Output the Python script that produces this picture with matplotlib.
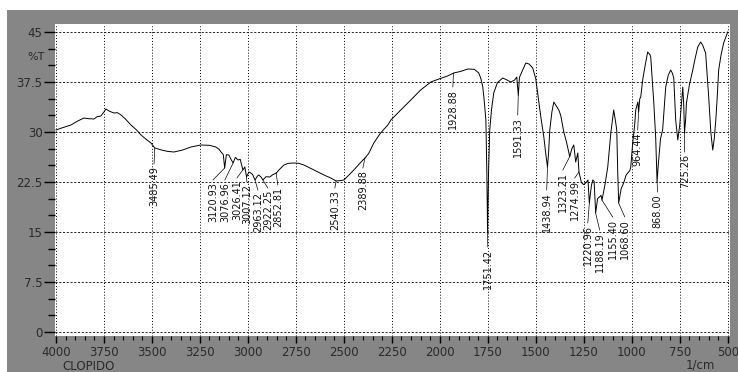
import matplotlib
matplotlib.use("Agg")
import matplotlib.pyplot as plt
from matplotlib.patches import Rectangle
from matplotlib.ticker import MultipleLocator, FormatStrFormatter

# spectrum (wavenumber 1/cm, %T)
wavenumber = [4000, 3960, 3922, 3890, 3854, 3830, 3802, 3785, 3766, 3750, 3740, 3720, 3698, 3680,
              3661, 3640, 3609, 3580, 3557, 3530, 3505, 3485, 3450, 3420, 3385, 3340, 3297, 3245,
              3200, 3167, 3150, 3140, 3128, 3121, 3112, 3099, 3090, 3077, 3065, 3052, 3040, 3026,
              3016, 3007, 2995, 2985, 2975, 2963, 2950, 2943, 2930, 2922, 2905, 2886, 2870, 2852,
              2835, 2812, 2790, 2760, 2735, 2708, 2670, 2635, 2600, 2568, 2540, 2520, 2500, 2475,
              2448, 2420, 2390, 2370, 2344, 2310, 2271, 2255, 2200, 2151, 2100, 2047, 2000, 1960,
              1927, 1890, 1854, 1820, 1797, 1786, 1776, 1768, 1760, 1755, 1751, 1746, 1740, 1730,
              1719, 1700, 1672, 1650, 1630, 1610, 1599, 1591, 1585, 1568, 1552, 1535, 1516, 1500,
              1490, 1475, 1458, 1447, 1439, 1433, 1427, 1416, 1406, 1395, 1380, 1370, 1354, 1340,
              1323, 1312, 1302, 1292, 1281, 1275, 1262, 1250, 1235, 1228, 1221, 1210, 1203, 1196,
              1188, 1178, 1168, 1160, 1155, 1140, 1125, 1109, 1094, 1084, 1078, 1073, 1068, 1055,
              1042, 1030, 1021, 1010, 1005, 995, 985, 979, 968, 964, 958, 953, 943, 930, 917, 905,
              901, 885, 875, 868, 862, 850, 839, 823, 810, 797, 788, 781, 771, 760, 750, 745, 734,
              729, 725, 719, 715, 700, 682, 670, 656, 641, 630, 615, 608, 599, 588, 578, 570, 562,
              555, 547, 535, 521, 510, 500]
transmittance = [30.3, 30.7, 31.05, 31.6, 32.1, 32.0, 31.95, 32.3, 32.4, 33.0, 33.45, 33.1, 32.85, 32.9,
                 32.55, 32.0, 31.05, 30.3, 29.55, 28.9, 28.35, 27.6, 27.3, 27.1, 27.0, 27.3, 27.75, 28.05,
                 28.0, 27.75, 27.4, 27.0, 26.6, 24.6, 26.6, 26.55, 26.0, 25.35, 26.2, 25.8, 25.9, 24.3,
                 24.75, 23.25, 24.0, 23.85, 23.6, 22.8, 23.4, 23.55, 23.2, 22.8, 23.3, 23.25, 23.6, 23.85,
                 24.4, 25.05, 25.3, 25.35, 25.3, 25.05, 24.5, 24.0, 23.5, 23.1, 22.65, 22.7, 22.8, 23.5,
                 24.3, 25.2, 26.1, 26.8, 28.35, 29.8, 31.05, 31.8, 33.4, 34.8, 36.3, 37.5, 38.0, 38.4,
                 38.85, 39.1, 39.45, 39.4, 38.85, 38.0, 36.75, 34.5, 31.8, 24.0, 14.85, 24.0, 30.3, 33.5,
                 35.85, 37.4, 38.1, 37.8, 37.5, 37.8, 38.25, 35.5, 38.2, 39.3, 40.35, 40.2, 39.6, 38.0,
                 35.85, 32.5, 29.25, 26.5, 24.75, 27.0, 30.3, 33.0, 34.5, 34.0, 33.3, 32.5, 30.0, 28.5,
                 26.3, 27.5, 28.05, 25.5, 26.85, 24.0, 22.4, 22.1, 22.5, 22.8, 19.35, 22.0, 22.8, 22.6,
                 17.85, 20.0, 20.25, 20.5, 19.8, 22.0, 24.75, 29.85, 33.3, 31.5, 30.3, 24.0, 19.35, 21.5,
                 22.35, 23.5, 23.85, 24.2, 24.75, 28.35, 31.0, 33.3, 34.5, 33.0, 35.0, 35.25, 37.8, 40.0, 42.0, 41.6,
                 41.25, 34.35, 29.0, 22.5, 25.0, 29.0, 30.3, 36.75, 38.5, 39.3, 38.8, 38.1, 31.8, 28.8, 31.0, 32.85, 36.75,
                 34.0, 29.85, 32.0, 34.35, 37.0, 39.3, 41.0, 42.75, 43.5, 43.0, 41.85, 39.0, 35.25, 30.0, 27.3, 29.0, 31.8,
                 35.0, 39.3, 41.5, 43.35, 44.2, 45.0]

# picked peaks
peak_labels = ["3485.49", "3120.93", "3076.96", "3026.41", "3007.12", "2963.12", "2922.25",
               "2852.81", "2540.33", "2389.88", "1928.88", "1751.42", "1591.33", "1438.94",
               "1323.21", "1274.99", "1220.96", "1188.19", "1155.40", "1068.60", "964.44",
               "868.00", "725.26"]
peak_wn = [float(s) for s in peak_labels]
peak_t = [27.6, 24.6, 25.35, 24.3, 23.25, 22.8, 22.8, 23.85, 22.65, 26.1, 38.85, 14.85, 35.5,
          24.75, 26.3, 24.0, 19.35, 17.85, 19.8, 19.35, 33.0, 22.5, 29.85]

# where the label text sits (top of the rotated text)
label_wn = [3489, 3182, 3120, 3057, 3005, 2948, 2896, 2844, 2547, 2401, 1932, 1750, 1594, 1443,
            1359, 1297, 1229, 1167, 1099, 1036, 969, 865, 724]
label_t = [25.2, 22.8, 22.8, 23.1, 22.5, 21.3, 21.6, 22.05, 21.6, 24.6, 36.75, 12.75, 32.55, 21.3,
           24.3, 23.1, 16.35, 15.3, 17.25, 17.25, 30.3, 21.0, 27.0]

frame_gray = "#868686"
txt = "#2a2a2a"

fig = plt.figure(figsize=(7.38, 3.72), dpi=100, facecolor="white")
fig.patches.append(Rectangle((7 / 738, 0), 731 / 738, 362 / 372, transform=fig.transFigure,
                             facecolor=frame_gray, edgecolor="none", zorder=-10))
ax = fig.add_axes([55 / 738, 36 / 372, 675 / 738, 312 / 372])
ax.set_zorder(1)
ax.set_facecolor("white")

ax.plot(wavenumber, transmittance, color="black", lw=0.7)

for lab, pw, pt, lw_, lt in zip(peak_labels, peak_wn, peak_t, label_wn, label_t):
    ax.plot([pw, lw_], [pt, lt], color="black", lw=0.5)
    ax.text(lw_, lt - 0.3, lab, rotation=90, ha="center", va="top", fontsize=7, color="#111111")

ax.set_xlim(4005, 488)
ax.set_ylim(-0.6, 46.2)
ax.xaxis.set_major_locator(MultipleLocator(250))
ax.xaxis.set_minor_locator(MultipleLocator(50))
ax.yaxis.set_major_locator(MultipleLocator(7.5))
ax.yaxis.set_minor_locator(MultipleLocator(2.5))
ax.yaxis.set_major_formatter(FormatStrFormatter("%g"))
ax.grid(True, axis="y", which="major", color="black", linestyle=(0, (2.5, 2)), lw=0.6)
ax.grid(True, axis="x", which="major", color="black", linestyle=(0, (1, 2)), lw=0.7)

ax.tick_params(axis="y", which="major", length=8, width=1, color="black", labelsize=8.5,
               labelcolor=txt, pad=1)
ax.tick_params(axis="y", which="minor", length=5, width=1, color="black")
ax.tick_params(axis="x", which="major", length=5, width=1, color="black", labelsize=8.5,
               labelcolor=txt, pad=2)
ax.tick_params(axis="x", which="minor", length=3, width=0.8, color="black")
for s in ax.spines.values():
    s.set_visible(False)

fig.text(36 / 738, 1 - 57 / 372, "%T", ha="center", va="center", fontsize=8, color=txt)
fig.text(89 / 738, 1 - 366 / 372, "CLOPIDO", ha="center", va="center", fontsize=8.5, color=txt)
fig.text(700 / 738, 1 - 365 / 372, "1/cm", ha="center", va="center", fontsize=8.5, color=txt)

fig.savefig("out.png", dpi=100, facecolor="white")
